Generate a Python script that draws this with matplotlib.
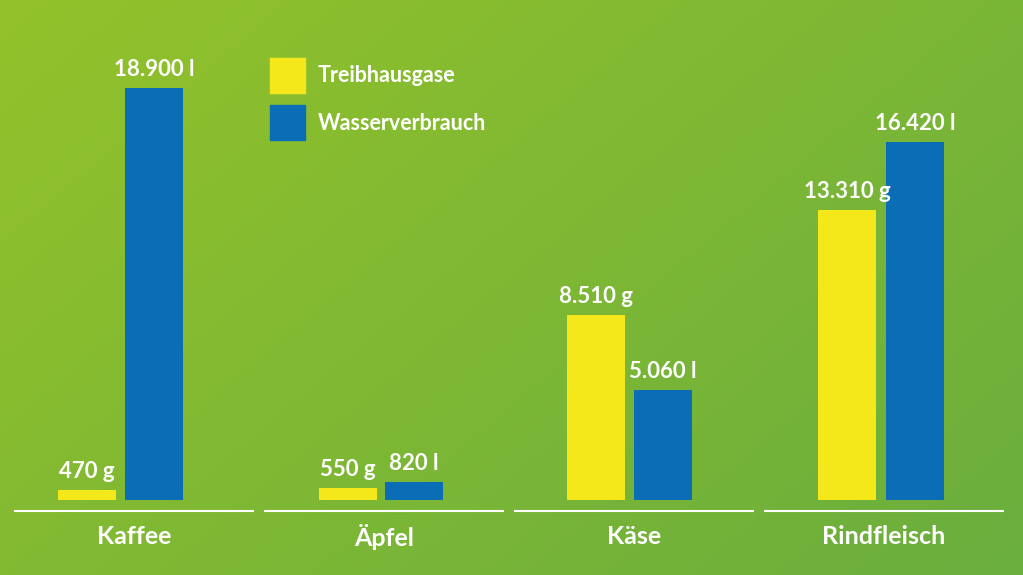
import matplotlib
matplotlib.use("Agg")
import matplotlib.pyplot as plt
import numpy as np
from matplotlib.patches import Rectangle

categories = ["Kaffee", "Äpfel", "Käse", "Rindfleisch"]
treibhaus = [470, 550, 8510, 13310]
wasser = [18900, 820, 5060, 16420]
treib_labels = ["470 g", "550 g", "8.510 g", "13.310 g"]
wasser_labels = ["18.900 l", "820 l", "5.060 l", "16.420 l"]
series_names = ["Treibhausgase", "Wasserverbrauch"]

W, H = 1023, 575
fig = plt.figure(figsize=(W/100, H/100), dpi=100)
bg = fig.add_axes([0, 0, 1, 1]); bg.axis("off")
xx, yy = np.meshgrid(np.linspace(0, 1, 200), np.linspace(0, 1, 200))
t = np.clip(0.6*xx + 0.4*yy, 0, 1)
c0 = np.array([0x93, 0xC2, 0x2A]) / 255
c1 = np.array([0x6A, 0xAE, 0x3E]) / 255
img = c0[None, None, :]*(1-t[..., None]) + c1[None, None, :]*t[..., None]
bg.imshow(img, extent=[0, 1, 0, 1], aspect="auto")
bg.set_xlim(0, 1); bg.set_ylim(0, 1)

ax = fig.add_axes([0, 0, 1, 1]); ax.axis("off"); ax.patch.set_alpha(0)
upp = 45.9
ax.set_xlim(-134/250, (W-134)/250)
ax.set_ylim(-75*upp, 500*upp)
x = np.arange(len(categories))
bw = 58/250
off_y = np.array([-47, -36, -38, -37]) / 250
off_b = np.array([20, 30, 29, 31]) / 250
yel, blu = "#F4E81A", "#0B6DB6"
ax.bar(x + off_y, treibhaus, bw, color=yel)
ax.bar(x + off_b, wasser, bw, color=blu)
font = "Lato"
for i in x:
    ax.text(i + off_y[i], treibhaus[i] + 8*upp, treib_labels[i], ha="center", va="bottom",
            color="white", fontsize=16, fontweight="bold", family=font)
    ax.text(i + off_b[i], wasser[i] + 8*upp, wasser_labels[i], ha="center", va="bottom",
            color="white", fontsize=16, fontweight="bold", family=font)
    ax.plot([i - 119/250, i + 119/250], [-11*upp, -11*upp], color="white", lw=1.5)
    ax.text(i, -37*upp, categories[i], ha="center", va="center", color="white",
            fontsize=18, fontweight="bold", family=font)

for k, (col, name) in enumerate(zip([yel, blu], series_names)):
    y0 = H - 93 - k*47
    fig.patches.append(Rectangle((270/W, y0/H), 35/W, 35/H, transform=fig.transFigure, color=col))
    fig.text(318/W, (y0 + 17)/H, name, color="white", fontsize=15.5, fontweight="bold",
             family=font, va="center")

fig.savefig("out.png", dpi=100)
